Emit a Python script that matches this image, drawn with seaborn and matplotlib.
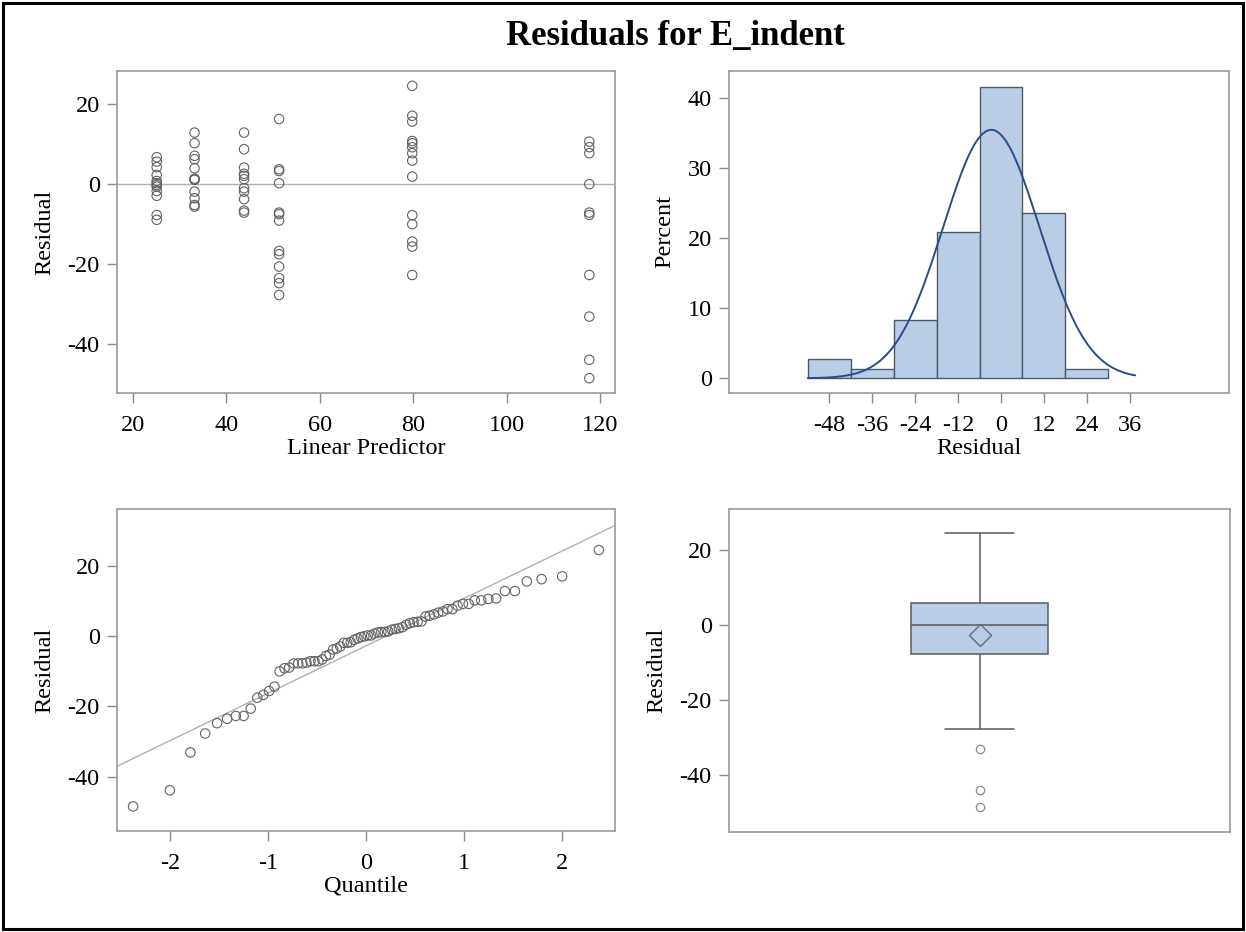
import numpy as np
import pandas as pd
import matplotlib
matplotlib.use("Agg")
import matplotlib.pyplot as plt
from matplotlib.patches import Rectangle
import seaborn as sns
from statistics import NormalDist

# ---------------- data ----------------
predictor_levels = [25.1, 33.2, 43.8, 51.3, 79.8, 117.7]
res_g1 = [6.75, 5.65, 4.25, 2.3, 0.8, 0.25, -0.2, -0.6, -1.7, -2.9, -7.7, -8.9]
res_g2 = [12.9, 10.25, 7.1, 6.25, 4.0, 1.4, 1.2, 1.1, -1.85, -3.5, -5.2, -5.6]
res_g3 = [12.9, 8.75, 4.15, 2.6, 2.1, 1.25, -1.0, -1.85, -3.75, -6.6, -7.1]
res_g4 = [16.3, 3.75, 3.3, 0.25, -7.1, -7.5, -9.1, -16.7, -17.5, -20.6, -23.5, -24.75, -27.7]
res_g5 = [24.6, 17.1, 15.65, 10.8, 10.25, 9.25, 7.75, 5.9, 1.9, -7.75, -10.0, -14.35, -15.6, -22.7]
res_g6 = [10.65, 9.25, 7.75, 0.0, -7.1, -7.7, -22.7, -33.1, -43.9, -48.5]
groups = [res_g1, res_g2, res_g3, res_g4, res_g5, res_g6]

hist_bin_edges = [-54, -42, -30, -18, -6, 6, 18, 30]
hist_xticks = [-48, -36, -24, -12, 0, 12, 24, 36]
hist_yticks = [0, 10, 20, 30, 40]
resid_ticks = [-40, -20, 0, 20]
pred_ticks = [20, 40, 60, 80, 100, 120]
quant_ticks = [-2, -1, 0, 1, 2]

title = "Residuals for E_indent"

# ---------------- derived table ----------------
pred = np.concatenate([[lvl] * len(g) for lvl, g in zip(predictor_levels, groups)])
resid = np.concatenate(groups)
df = pd.DataFrame({"Linear Predictor": pred, "Residual": resid})
n = len(resid)
mu = resid.mean()
sd = resid.std(ddof=1)

sorted_res = np.sort(resid)
nd = NormalDist()
quantiles = np.array([nd.inv_cdf((i - 0.375) / (n + 0.25)) for i in range(1, n + 1)])
qq = pd.DataFrame({"Quantile": quantiles, "Residual": sorted_res})

# ---------------- style ----------------
sns.set_theme(style="white")
plt.rcParams["font.family"] = ["Liberation Serif", "DejaVu Serif"]
plt.rcParams["font.size"] = 17
plt.rcParams["axes.unicode_minus"] = False
plt.rcParams["text.color"] = "black"
plt.rcParams["axes.labelcolor"] = "black"

FILL = "#B9CDE6"
EDGE = "#4F5866"
CURVE = "#2B4C86"
SPINE = "#9A9A9A"
MARK = "#626262"
REF = "#B0B0B0"
FS = 17.5

fig = plt.figure(figsize=(12.46, 9.32), dpi=100)
W, H = 1246.0, 932.0


def add_ax(x0, y0, x1, y1):
    return fig.add_axes([x0 / W, 1 - y1 / H, (x1 - x0) / W, (y1 - y0) / H])


def style(ax, xlabel, ylabel):
    for s in ax.spines.values():
        s.set_visible(True)
        s.set_color(SPINE)
        s.set_linewidth(1.2)
    ax.tick_params(axis="both", which="major", direction="out", length=7.5, width=1.0,
                   color="#8A8A8A", labelsize=FS, labelcolor="black",
                   bottom=True, left=True)
    ax.tick_params(axis="x", pad=8)
    ax.tick_params(axis="y", pad=5)
    ax.set_xlabel(xlabel, fontsize=FS, labelpad=1.5)
    ax.set_ylabel(ylabel, fontsize=FS, labelpad=9)
    ax.grid(False)


ax1 = add_ax(117, 71, 615, 393)
ax2 = add_ax(729, 71, 1229, 393)
ax3 = add_ax(117, 509, 615, 831)
ax4 = add_ax(729, 509, 1230, 831.5)

# ---- Residual vs predictor ----
ax1.axhline(0, color=REF, lw=1.0, zorder=1)
sns.scatterplot(data=df, x="Linear Predictor", y="Residual", ax=ax1, marker="o",
                s=46, facecolor="none", edgecolor=MARK, linewidth=0.8, zorder=3)
ax1.set_xlim(16.6, 123.2)
ax1.set_ylim(-52.2, 28.3)
ax1.set_xticks(pred_ticks)
ax1.set_yticks(resid_ticks)
style(ax1, "Linear Predictor", "Residual")

# ---- Histogram ----
sns.histplot(x=resid, bins=hist_bin_edges, stat="percent", ax=ax2, color=FILL,
             edgecolor=EDGE, linewidth=1.0, alpha=1.0)
xc = np.linspace(hist_bin_edges[0], 37.5, 300)
dens = np.exp(-0.5 * ((xc - mu) / sd) ** 2) / (sd * np.sqrt(2 * np.pi)) * 12 * 100
ax2.plot(xc, dens, color=CURVE, lw=1.4)
ax2.set_xlim(-76.0, 63.7)
ax2.set_ylim(-2.1, 43.9)
ax2.set_xticks(hist_xticks)
ax2.set_yticks(hist_yticks)
style(ax2, "Residual", "Percent")

# ---- Q-Q plot ----
xl = np.array([-2.545, 2.545])
ax3.plot(xl, mu + sd * xl, color=REF, lw=1.0, zorder=1)
sns.scatterplot(data=qq, x="Quantile", y="Residual", ax=ax3, marker="o",
                s=46, facecolor="none", edgecolor=MARK, linewidth=0.8, zorder=3)
ax3.set_xlim(-2.545, 2.545)
ax3.set_ylim(-55.5, 36.3)
ax3.set_xticks(quant_ticks)
ax3.set_yticks(resid_ticks)
style(ax3, "Quantile", "Residual")

# ---- Box plot ----
sns.boxplot(y=resid, ax=ax4, width=0.275, color=FILL, linecolor="#5A5A5A", linewidth=1.1,
            saturation=1, showmeans=True, whis=1.5,
            meanprops=dict(marker="D", markerfacecolor="none", markeredgecolor="#6A6A7A",
                           markersize=11, markeredgewidth=1.0),
            flierprops=dict(marker="o", markerfacecolor="none", markeredgecolor="#8A8A8A",
                            markersize=6, markeredgewidth=0.9))
ax4.set_xlim(-0.5, 0.5)
ax4.set_ylim(-55.1, 31.0)
ax4.set_yticks(resid_ticks)
style(ax4, "", "Residual")
ax4.tick_params(axis="x", bottom=False, labelbottom=False)

# ---- title and outer frame ----
fig.text(675 / W, 1 - 37 / H, title, ha="center", va="center", fontsize=25,
         fontweight="bold", color="black")
fig.patches.append(Rectangle((3 / W, 3 / H), 1 - 6 / W, 1 - 6 / H, transform=fig.transFigure,
                             fill=False, edgecolor="black", linewidth=2.2))

fig.savefig("out.png", dpi=100)
